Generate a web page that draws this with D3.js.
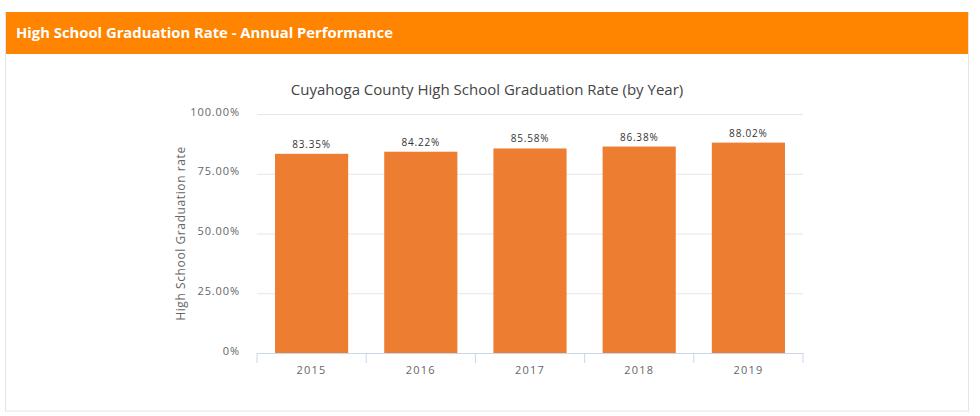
<!DOCTYPE html>
<html><head>
<meta charset="utf-8">
<title>High School Graduation Rate</title>
<script src="https://d3js.org/d3.v7.min.js"></script>
<style>
  body { margin: 0; background: #fff; font-family: "Open Sans", sans-serif; }
  .gridlines line { stroke: #e6e6e6; }
  .gridlines .domain { stroke: none; }
  .y.axis .domain { stroke: none; }
  .y.axis line { stroke: none; }
  .x.axis .domain, .x.axis line { stroke: #ccd6eb; }
</style>
</head>
<body>
<svg id="chart" width="980" height="416"></svg>
<script>
  // data
  const years = ["2015", "2016", "2017", "2018", "2019"];
  const rates = [83.35, 84.22, 85.58, 86.38, 88.02];
  const yTicks = [0, 25, 50, 75, 100];

  const svg = d3.select("svg#chart");

  // panel + orange header
  svg.append("rect")
     .attr("x", 5.5).attr("y", 12.5)
     .attr("width", 963).attr("height", 398.5)
     .attr("fill", "#fff").attr("stroke", "#e3e3e3");
  svg.append("rect")
     .attr("x", 6).attr("y", 12)
     .attr("width", 962).attr("height", 42)
     .attr("fill", "#ff8400");
  svg.append("text")
     .attr("x", 16).attr("y", 38)
     .attr("fill", "#fff")
     .style("font-size", "14.8px").style("font-weight", "bold")
     .text("High School Graduation Rate - Annual Performance");

  const margins = {left: 257, top: 114};
  const chartWidth = 546;
  const chartHeight = 239;

  const xScale = d3.scaleBand().domain(years).range([0, chartWidth])
                   .paddingInner(0.33).paddingOuter(0.165);
  const yScale = d3.scaleLinear().domain([0, 100]).range([chartHeight, 0]);

  const chartArea = svg.append("g")
     .attr("transform", `translate(${margins.left}, ${margins.top})`);

  // gridlines
  chartArea.append("g")
     .attr("class", "gridlines")
     .call(d3.axisLeft(yScale).tickValues(yTicks).tickSize(-chartWidth).tickFormat(""));

  // y axis labels
  const leftAxis = chartArea.append("g")
     .attr("class", "y axis")
     .attr("transform", "translate(-14,0)")
     .call(d3.axisLeft(yScale).tickValues(yTicks).tickSize(0)
             .tickFormat(d => d === 0 ? "0%" : d.toFixed(2) + "%"));
  leftAxis.selectAll("text")
     .style("font-family", "Open Sans").style("font-size", "11px")
     .style("letter-spacing", "0.9px")
     .attr("fill", "#666").attr("dy", "0.1em");

  // bars
  chartArea.selectAll("rect.bar")
     .data(years)
     .join("rect")
     .attr("class", "bar")
     .attr("x", d => xScale(d))
     .attr("y", (d, i) => yScale(rates[i]))
     .attr("width", xScale.bandwidth())
     .attr("height", (d, i) => chartHeight - yScale(rates[i]))
     .attr("fill", "#ed7d31");

  // data labels
  chartArea.selectAll("text.label")
     .data(years)
     .join("text")
     .attr("class", "label")
     .attr("x", d => xScale(d) + xScale.bandwidth() / 2)
     .attr("y", (d, i) => yScale(rates[i]) - 6)
     .attr("text-anchor", "middle")
     .attr("fill", "#333")
     .style("font-size", "10px")
     .style("letter-spacing", "0.8px")
     .text((d, i) => rates[i].toFixed(2) + "%");

  // x axis with category ticks on band edges
  const xAxisG = chartArea.append("g")
     .attr("class", "x axis")
     .attr("transform", `translate(0, ${chartHeight})`)
     .call(d3.axisBottom(xScale).tickSize(0).tickSizeOuter(0));
  xAxisG.selectAll("text")
     .attr("dy", "1.6em")
     .attr("fill", "#666")
     .style("font-family", "Open Sans").style("font-size", "11px")
     .style("letter-spacing", "1.2px");
  xAxisG.selectAll("line.edge")
     .data(d3.range(years.length + 1))
     .join("line")
     .attr("class", "edge")
     .attr("x1", i => i * xScale.step()).attr("x2", i => i * xScale.step())
     .attr("y1", 0).attr("y2", 10)
     .attr("stroke", "#ccd6eb");

  // titles
  svg.append("text")
     .attr("x", 487).attr("y", 95)
     .attr("text-anchor", "middle")
     .attr("fill", "#444")
     .style("font-size", "15px")
     .text("Cuyahoga County High School Graduation Rate (by Year)");

  svg.append("text")
     .attr("transform", `translate(185, ${margins.top + chartHeight / 2}) rotate(-90)`)
     .attr("text-anchor", "middle")
     .attr("fill", "#666")
     .style("font-size", "12px")
     .style("letter-spacing", "0.6px")
     .text("High School Graduation rate");
</script>
</body>
</html>
